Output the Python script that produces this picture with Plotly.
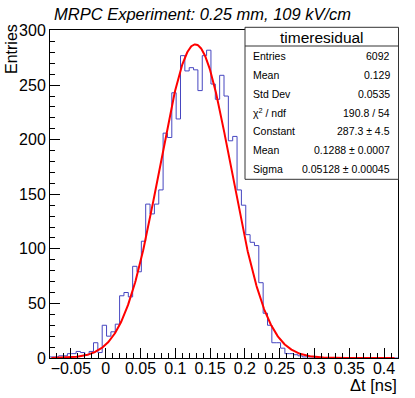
import numpy as np
import plotly.graph_objects as go

# histogram binning and bin contents
x_min = -0.08
x_max = 0.42
n_bins = 80
counts = [1, 1, 2, 2, 4, 4, 6, 5, 3, 6,
          14, 5, 30, 20, 24, 31, 57, 60, 56, 84,
          79, 107, 141, 132, 141, 154, 206, 202, 243, 219,
          277, 263, 266, 264, 245, 277, 282, 251, 237, 259,
          240, 199, 203, 154, 140, 113, 106, 103, 69, 41,
          30, 14, 14, 9, 4, 4, 3, 2, 1, 1,
          1, 0, 0, 0, 0, 0, 0, 0, 0, 0,
          0, 0, 0, 0, 0, 0, 0, 0, 0, 0]

# gaussian fit parameters (from the stats box)
fit_const = 287.3
fit_mean = 0.1288
fit_sigma = 0.05128
fit_lo = -0.078
fit_hi = 0.415

# stats box text
stat_title = "timeresidual"
stat_labels = ["Entries", "Mean", "Std Dev", "χ<sup>2</sup> / ndf",
               "Constant", "Mean", "Sigma"]
stat_values = ["6092", "0.129", "0.0535", "190.8 / 54",
               "287.3 ± 4.5", "0.1288 ± 0.0007", "0.05128 ± 0.00045"]

# tick labels
x_ticks = [-0.05, 0, 0.05, 0.1, 0.15, 0.2, 0.25, 0.3, 0.35, 0.4]
x_ticktext = ["\u22120.05", "0", "0.05", "0.1", "0.15", "0.2", "0.25",
              "0.3", "0.35", "0.4"]
y_ticks = [0, 50, 100, 150, 200, 250, 300]
y_ticktext = ["0", "50", "100", "150", "200", "250", "300"]

W, H = 415, 398
L, R, T, B = 50, 17, 30, 40
FONT = "Liberation Sans, Arial, Helvetica, sans-serif"


def px(x):
    # pixel -> paper x
    return (x - L) / (W - L - R)


def py(y):
    # pixel -> paper y
    return (H - B - y) / (H - T - B)


edges = np.linspace(x_min, x_max, n_bins + 1)
step_y = list(counts) + [counts[-1]]

xf = np.linspace(fit_lo, fit_hi, 600)
yf = fit_const * np.exp(-0.5 * ((xf - fit_mean) / fit_sigma) ** 2)

fig = go.Figure()
fig.add_trace(go.Scatter(x=edges, y=step_y, mode="lines", line_shape="hv",
                         line=dict(color="#4646c0", width=1),
                         showlegend=False, hoverinfo="skip"))
fig.add_trace(go.Scatter(x=xf, y=yf, mode="lines",
                         line=dict(color="#ff0000", width=2),
                         showlegend=False, hoverinfo="skip"))

axis_common = dict(showgrid=False, zeroline=False, showline=True,
                   linecolor="black", linewidth=1, mirror=True,
                   ticks="inside", ticklen=10, tickcolor="black",
                   tickfont=dict(family=FONT, size=16, color="black"))

fig.update_xaxes(range=[x_min, x_max], tickmode="array", tickvals=x_ticks,
                 ticktext=x_ticktext, ticklabelstandoff=-4,
                 minor=dict(dtick=0.01, tick0=0, ticks="inside", ticklen=5,
                            tickcolor="black", showgrid=False),
                 **axis_common)
fig.update_yaxes(range=[0, 300.5], tickmode="array", tickvals=y_ticks,
                 ticktext=y_ticktext,
                 minor=dict(dtick=10, tick0=0, ticks="inside", ticklen=5,
                            tickcolor="black", showgrid=False),
                 **axis_common)

# stats box
fig.add_shape(type="rect", xref="paper", yref="paper",
              x0=px(245), x1=px(398.5), y0=py(179.3), y1=py(27.3),
              line=dict(color="#333333", width=1), fillcolor="white",
              layer="above")
fig.add_shape(type="line", xref="paper", yref="paper",
              x0=px(245), x1=px(398.5), y0=py(46), y1=py(46),
              line=dict(color="#333333", width=1), layer="above")

ann = []
ann.append(dict(text=stat_title, x=px(321.7), y=py(37), xref="paper",
                yref="paper", xanchor="center", yanchor="middle",
                showarrow=False, font=dict(family=FONT, size=15.5, color="black")))
for i, (lab, val) in enumerate(zip(stat_labels, stat_values)):
    yy = py(56 + i * 18.85)
    ann.append(dict(text=lab, x=px(251), y=yy, xref="paper", yref="paper",
                    xanchor="left", yanchor="middle", showarrow=False,
                    font=dict(family=FONT, size=10.5, color="black")))
    ann.append(dict(text=val, x=px(392), y=yy, xref="paper", yref="paper",
                    xanchor="right", yanchor="middle", showarrow=False,
                    font=dict(family=FONT, size=10.5, color="black")))

# title and axis titles (ROOT style placement)
ann.append(dict(text="<i>MRPC Experiment: 0.25 mm, 109 kV/cm</i>",
                x=px(52), y=py(14), xref="paper", yref="paper",
                xanchor="left", yanchor="middle", showarrow=False,
                font=dict(family=FONT, size=16.5, color="black")))
ann.append(dict(text="Entries", x=px(12), y=py(22), xref="paper",
                yref="paper", xanchor="center", yanchor="top",
                textangle=-90, showarrow=False,
                font=dict(family=FONT, size=16, color="black")))
ann.append(dict(text="\u0394t [ns]", x=px(399), y=py(385), xref="paper",
                yref="paper", xanchor="right", yanchor="middle",
                showarrow=False,
                font=dict(family=FONT, size=16.5, color="black")))

fig.update_layout(width=W, height=H, autosize=False,
                  margin=dict(l=L, r=R, t=T, b=B),
                  paper_bgcolor="white", plot_bgcolor="white",
                  annotations=ann, showlegend=False)

# page body has a default 8px margin; drop it so the figure sits at 0,0
fig.write_html("out.html", config={"displayModeBar": False},
               post_script="document.body.style.margin='0px';")
